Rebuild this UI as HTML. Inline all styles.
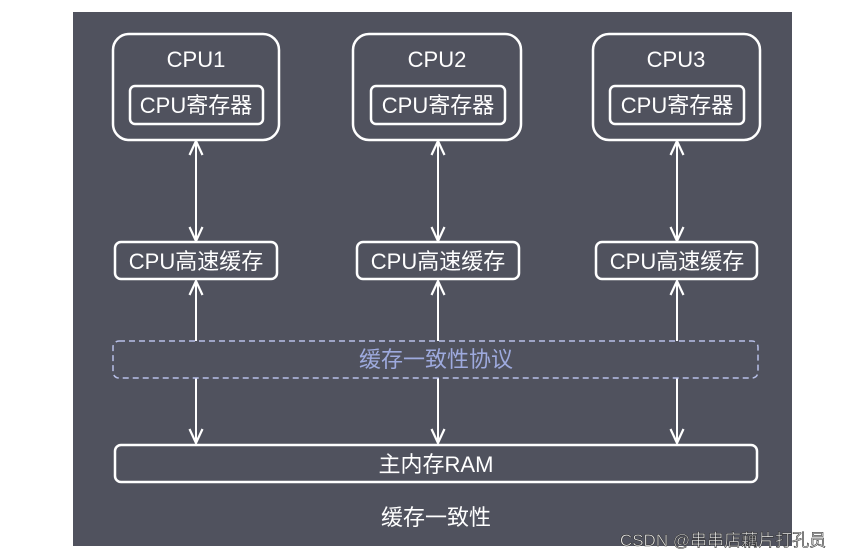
<!DOCTYPE html>
<html><head><meta charset="utf-8"><style>
html,body{margin:0;padding:0;background:#fff;}
svg{display:block;}
text{font-family:"Liberation Sans","Noto Sans CJK SC",sans-serif;}
</style></head><body>
<svg width="843" height="558" viewBox="0 0 843 558" xmlns="http://www.w3.org/2000/svg">
<defs>
<marker id="a" viewBox="0 0 16 16" refX="15" refY="8" markerWidth="16" markerHeight="16" markerUnits="userSpaceOnUse" orient="auto-start-reverse">
<path d="M1,1.5 L15,8 L1,14.5" fill="none" stroke="#fff" stroke-width="2.2"/>
</marker>
</defs>
<rect x="73" y="12" width="719" height="534" fill="#50525e"/>
<g fill="none" stroke="#fff" stroke-width="2.5">
<rect x="113" y="34" width="166" height="106" rx="16"/>
<rect x="353" y="34" width="168" height="106" rx="16"/>
<rect x="593" y="34" width="167" height="106" rx="16"/>
<rect x="130" y="86" width="133" height="38" rx="5"/>
<rect x="371" y="86" width="134" height="38" rx="5"/>
<rect x="610" y="86" width="134" height="38" rx="5"/>
<rect x="115" y="242" width="162" height="37" rx="6"/>
<rect x="357" y="242" width="162" height="37" rx="6"/>
<rect x="596" y="242" width="161" height="37" rx="6"/>
<rect x="115" y="445" width="642" height="37" rx="6"/>
</g>
<g stroke="#fff" stroke-width="2" marker-start="url(#a)" marker-end="url(#a)">
<line x1="196" y1="141" x2="196" y2="241"/>
<line x1="438" y1="141" x2="438" y2="241"/>
<line x1="677" y1="141" x2="677" y2="241"/>
</g>
<g stroke="#fff" stroke-width="2">
<line x1="196" y1="281" x2="196" y2="341" marker-start="url(#a)"/>
<line x1="438" y1="281" x2="438" y2="341" marker-start="url(#a)"/>
<line x1="677" y1="281" x2="677" y2="341" marker-start="url(#a)"/>
<line x1="196" y1="378" x2="196" y2="443" marker-end="url(#a)"/>
<line x1="438" y1="378" x2="438" y2="443" marker-end="url(#a)"/>
<line x1="677" y1="378" x2="677" y2="443" marker-end="url(#a)"/>
</g>
<rect x="113" y="341" width="645" height="37" rx="6" fill="none" stroke="#b8c0e8" stroke-width="1.5" stroke-dasharray="6,4"/>
<g fill="#fff" text-anchor="middle" font-size="22">
<text x="196" y="67">CPU1</text>
<text x="437" y="67">CPU2</text>
<text x="676" y="67">CPU3</text>
<text x="196" y="113">CPU寄存器</text>
<text x="438" y="113">CPU寄存器</text>
<text x="677" y="113">CPU寄存器</text>
<text x="196" y="269">CPU高速缓存</text>
<text x="438" y="269">CPU高速缓存</text>
<text x="677" y="269">CPU高速缓存</text>
<text x="436" y="472">主内存RAM</text>
<text x="436" y="525">缓存一致性</text>
</g>
<text x="436" y="367" fill="#9eaade" text-anchor="middle" font-size="22">缓存一致性协议</text>
<text x="723" y="546" fill="#eeeeee" stroke="#333" stroke-width="0.6" text-anchor="middle" font-size="17">CSDN @串串店藕片打孔员</text>
</svg>
</body></html>
